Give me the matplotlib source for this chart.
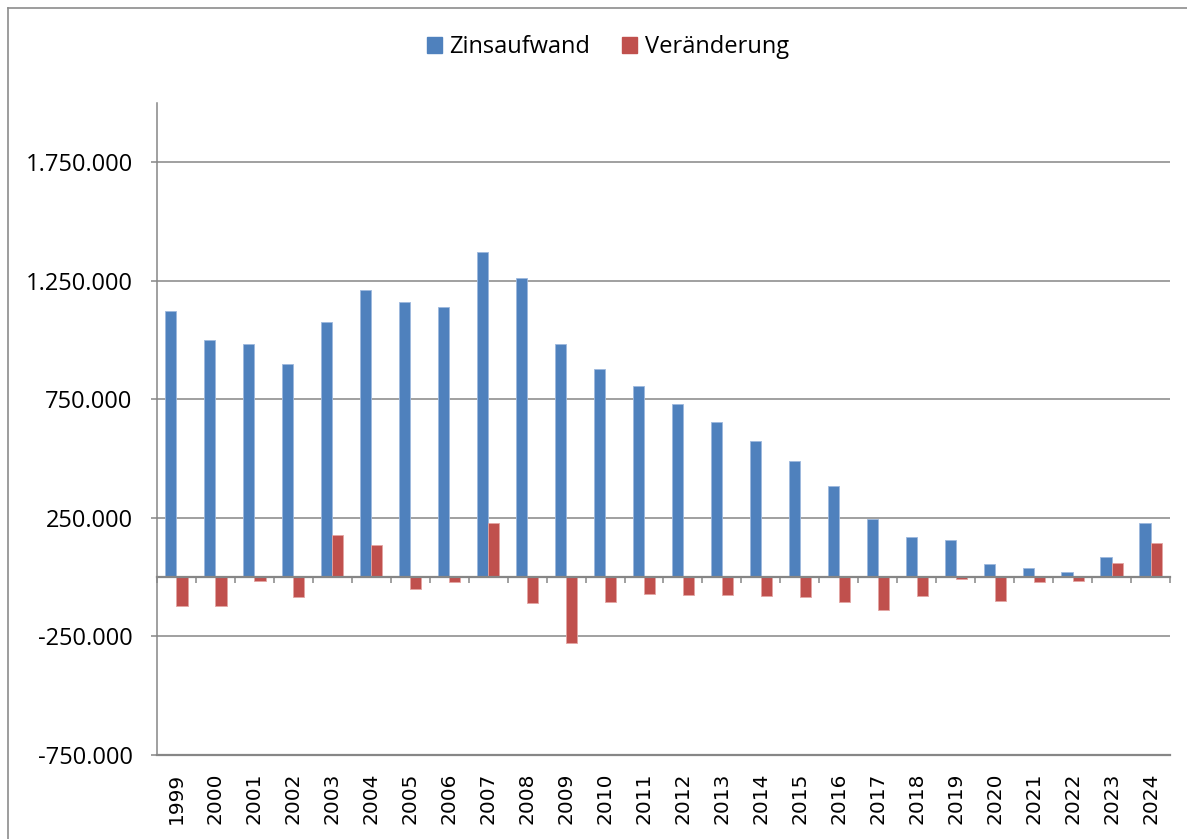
import numpy as np
import matplotlib.pyplot as plt
import matplotlib.patches as mpatches
from matplotlib.lines import Line2D
from matplotlib.ticker import FuncFormatter, FixedLocator
import matplotlib.transforms as mtransforms

# Jahreswerte
jahre = [str(j) for j in range(1999, 2025)]
zinsaufwand = [1124600, 1001200, 983000, 900000, 1077000, 1211800, 1161200,
               1140000, 1370600, 1262300, 984300, 877800, 806200, 731600,
               654500, 575800, 491500, 385000, 247400, 168200, 158500,
               56800, 38000, 22900, 83500, 228800]
veraenderung = [-120600, -123400, -18200, -83000, 177000, 134800, -50600,
                -21200, 230600, -108300, -278000, -106500, -71600, -74600,
                -77100, -78700, -84300, -106500, -137600, -79200, -9700,
                -101700, -18800, -15100, 60600, 145300]
y_ticks = [-750000, -250000, 250000, 750000, 1250000, 1750000]

BLAU = "#4F81BD"
ROT = "#C0504D"
GRAU = "#868686"

W, H = 1187, 839
fig = plt.figure(figsize=(W / 100, H / 100), dpi=100)
ax = fig.add_axes([157 / W, 1 - 755 / H, (1170 - 157) / W, (755 - 103) / H])

x = np.arange(len(jahre))
bw = 1 / 3.5
ax.bar(x - bw / 2, zinsaufwand, bw, color=BLAU, edgecolor="#9DB8DD", linewidth=0.6, zorder=3)
ax.bar(x + bw / 2, veraenderung, bw, color=ROT, edgecolor="#E3A5A3", linewidth=0.6, zorder=3)

ax.set_xlim(-0.5, len(jahre) - 0.5)
ax.set_ylim(-750000, 2000000)

# y-Achse mit deutschem Tausenderpunkt
ax.yaxis.set_major_locator(FixedLocator(y_ticks))
ax.yaxis.set_major_formatter(FuncFormatter(lambda v, p: f"{v:,.0f}".replace(",", ".")))
ax.grid(axis="y", color=GRAU, linewidth=1.1, zorder=0)
ax.tick_params(axis="y", length=4.5, width=1.1, color=GRAU, pad=13,
               labelsize=17, labelcolor="black")
for lbl in ax.get_yticklabels():
    lbl.set_family("Open Sans")

for s in ["top", "right"]:
    ax.spines[s].set_visible(False)
ax.spines["left"].set_color(GRAU)
ax.spines["left"].set_linewidth(1.1)

# x-Achse auf der Nulllinie, Striche an den Kategoriegrenzen
ax.spines["bottom"].set_position(("data", 0))
ax.spines["bottom"].set_color(GRAU)
ax.spines["bottom"].set_linewidth(1.6)
ax.spines["bottom"].set_zorder(4)
ax.xaxis.set_major_locator(FixedLocator(np.arange(-0.5, len(jahre), 1.0)))
ax.tick_params(axis="x", length=4.5, width=1.1, color=GRAU, labelbottom=False)
ax.axhline(-750000, color=GRAU, linewidth=1.6, zorder=2, clip_on=False)

trans = mtransforms.blended_transform_factory(ax.transData, ax.transAxes)
for xi, j in zip(x, jahre):
    ax.text(xi, -0.027, j, transform=trans, rotation=90, ha="center", va="top",
            fontsize=14.5, family="DejaVu Sans")

# Legende
handles = [mpatches.Patch(color=BLAU, label="Zinsaufwand"),
           mpatches.Patch(color=ROT, label="Veränderung")]
fig.legend(handles=handles, loc="center", bbox_to_anchor=(608 / W, 1 - 47 / H),
           ncol=2, frameon=False, prop={"family": "Open Sans", "size": 17},
           handlelength=0.64, handleheight=0.64, handletextpad=0.3,
           columnspacing=1.35, borderpad=0)

# Rahmen des Diagrammbereichs
fig.add_artist(Line2D([8 / W, 1], [1 - 8 / H, 1 - 8 / H], color="#8C8C8C", linewidth=1.2))
fig.add_artist(Line2D([8 / W, 8 / W], [0, 1 - 8 / H], color="#8C8C8C", linewidth=1.2))

fig.savefig("out.png", dpi=100)
